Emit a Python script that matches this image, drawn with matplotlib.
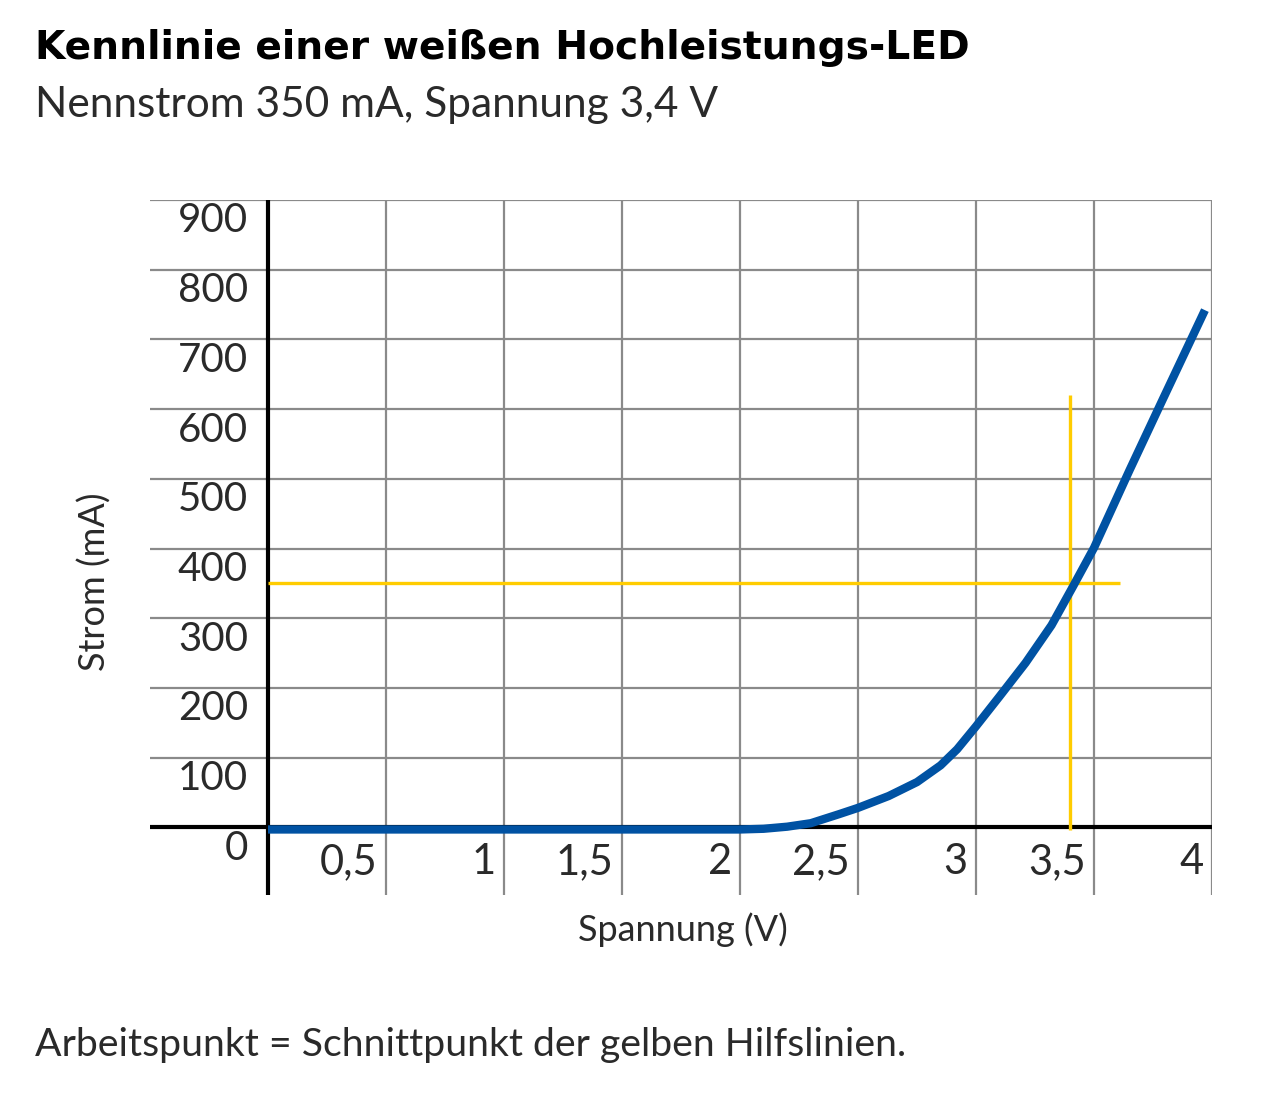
import numpy as np
import matplotlib.pyplot as plt

# Kennlinie
spannung = [0.0, 2.0, 2.1, 2.2, 2.3, 2.42, 2.5, 2.63, 2.75, 2.85, 2.92, 3.0, 3.1, 3.21,
            3.32, 3.41, 3.5, 3.65, 3.79, 3.97]
strom = [-3, -3, -2, 1, 6, 19, 28, 45, 65, 89, 112, 145, 188, 236,
         290, 345, 401, 512, 613, 742]

arbeits_u = 3.4
arbeits_i = 350

x_ticks = [0.5, 1, 1.5, 2, 2.5, 3, 3.5, 4]
x_labels = ["0,5", "1", "1,5", "2", "2,5", "3", "3,5", "4"]
y_ticks = [0, 100, 200, 300, 400, 500, 600, 700, 800, 900]

thin = dict(family=["Lato", "DejaVu Sans"], weight="normal", color="#2a2a2a")

fig = plt.figure(figsize=(12.8, 11.02), dpi=100)
ax = fig.add_axes([150 / 1280, 1 - 895 / 1102, (1212 - 150) / 1280, (895 - 200) / 1102])
ax.set_xlim(-0.5, 4)
ax.set_ylim(-97, 900)
ax.axis("off")

# Gitter
for y in y_ticks[1:]:
    ax.plot([-0.5, 4], [y, y], color="#8a8a8a", lw=1.6, zorder=1, solid_capstyle="butt")
for x in x_ticks:
    ax.plot([x, x], [-97, 900], color="#8a8a8a", lw=1.6, zorder=1, solid_capstyle="butt")

# Achsen
ax.plot([-0.5, 4], [0, 0], color="black", lw=3, zorder=2, solid_capstyle="butt")
ax.plot([0, 0], [-97, 900], color="black", lw=3, zorder=2, solid_capstyle="butt")

# gelbe Hilfslinien
ax.plot([0, 3.61], [arbeits_i, arbeits_i], color="#ffcc00", lw=2.4, zorder=3, solid_capstyle="butt")
ax.plot([arbeits_u, arbeits_u], [-4, 620], color="#ffcc00", lw=2.4, zorder=3, solid_capstyle="butt")

# Kennlinie
ax.plot(spannung, strom, color="#0052a3", lw=6, zorder=4, solid_joinstyle="round", solid_capstyle="butt")

# Beschriftungen
for y in y_ticks:
    ax.text(-0.085, y - 30, str(y), ha="right", va="center", fontsize=29, **thin)
for x, lab in zip(x_ticks, x_labels):
    ax.text(x - 0.035, -50, lab, ha="right", va="center", fontsize=30, **thin)

fig.text(683 / 1280, 1 - 930 / 1102, "Spannung (V)", ha="center", va="center", fontsize=26, **thin)
fig.text(95 / 1280, 1 - 582 / 1102, "Strom (mA)", ha="center", va="center", rotation=90, fontsize=26, **thin)

fig.text(35 / 1280, 1 - 48 / 1102, "Kennlinie einer weißen Hochleistungs-LED", ha="left", va="center",
         fontsize=28.3, family=["DejaVu Sans"], weight="bold", color="black")
fig.text(35 / 1280, 1 - 105 / 1102, "Nennstrom 350 mA, Spannung 3,4 V", ha="left", va="center",
         fontsize=30.5, **thin)
fig.text(35 / 1280, 1 - 1045 / 1102, "Arbeitspunkt = Schnittpunkt der gelben Hilfslinien.", ha="left",
         va="center", fontsize=28.3, **thin)

fig.savefig("out.png", dpi=100)
